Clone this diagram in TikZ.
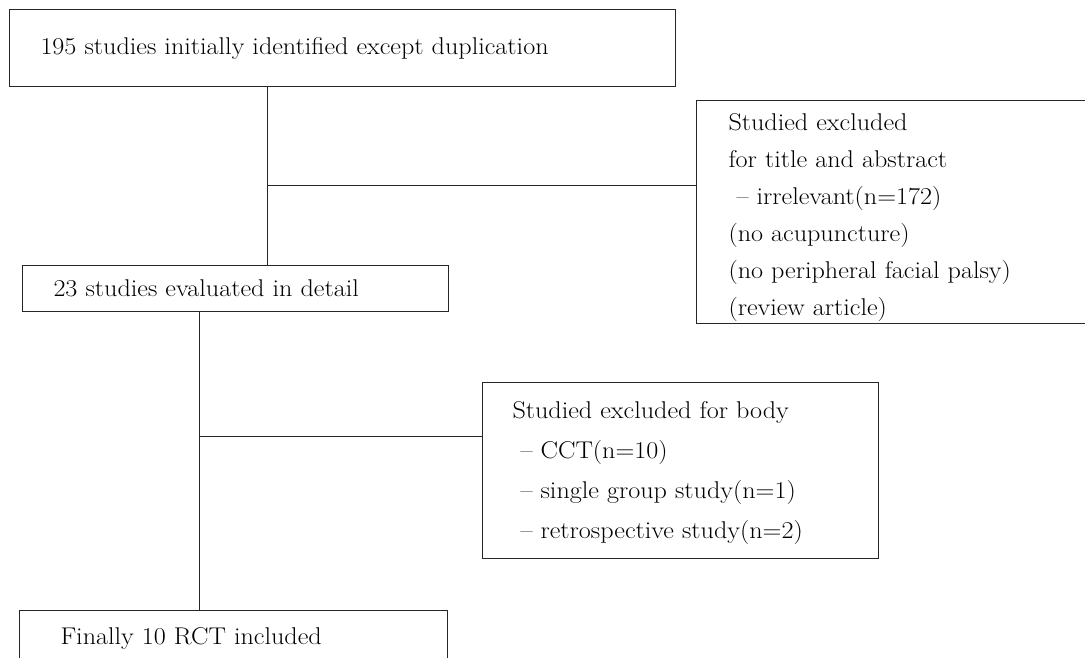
\documentclass[tikz,border=0pt]{standalone}
\usepackage{fontspec}
\setmainfont{Latin Modern Roman}[FakeStretch=1.08]
\begin{document}
\begin{tikzpicture}[x=1pt,y=-1pt,
  box/.style={draw=black!85, line width=1pt, anchor=north west, align=left,
    inner ysep=0pt, font=\fontsize{24.2}{37}\selectfont},
  link/.style={draw=black!85, line width=1pt}]
\useasboundingbox (0,0) rectangle (1085,657);
\clip (0,0) rectangle (1085,657);
\node[box, minimum width=666pt, minimum height=77pt, inner xsep=31pt, text width=604pt] (b1) at (9,9)
  {195 studies initially identified except duplication};
\node[box, minimum width=394pt, minimum height=223pt, inner xsep=32pt, text width=330pt] (r1) at (696,100)
  {\rule{0pt}{28.5pt}Studied excluded\\for title and abstract\\\ \textendash{} irrelevant(n=172)\\(no acupuncture)\\(no peripheral facial palsy)\\(review article)};
\node[box, minimum width=426pt, minimum height=46pt, inner xsep=31pt, text width=364pt] (b2) at (22,265)
  {23 studies evaluated in detail};
\node[box, minimum width=396pt, minimum height=176pt, inner xsep=30pt, text width=336pt,
  font=\fontsize{24.2}{40}\selectfont] (r2) at (482,382)
  {\rule{0pt}{22.5pt}Studied excluded for body\\\ \textendash{} CCT(n=10)\\\ \textendash{} single group study(n=1)\\\ \textendash{} retrospective study(n=2)};
\node[box, minimum width=428pt, minimum height=56pt, inner xsep=41pt, text width=346pt] (b3) at (19,610)
  {Finally 10 RCT included};
\coordinate (j1) at (267,185);
\coordinate (j2) at (199,436);
\draw[link] (b1.south -| j1) -- (b2.north -| j1);
\draw[link] (j1) -- (r1.west |- j1);
\draw[link] (b2.south -| j2) -- (b3.north -| j2);
\draw[link] (j2) -- (r2.west |- j2);
\end{tikzpicture}
\end{document}
